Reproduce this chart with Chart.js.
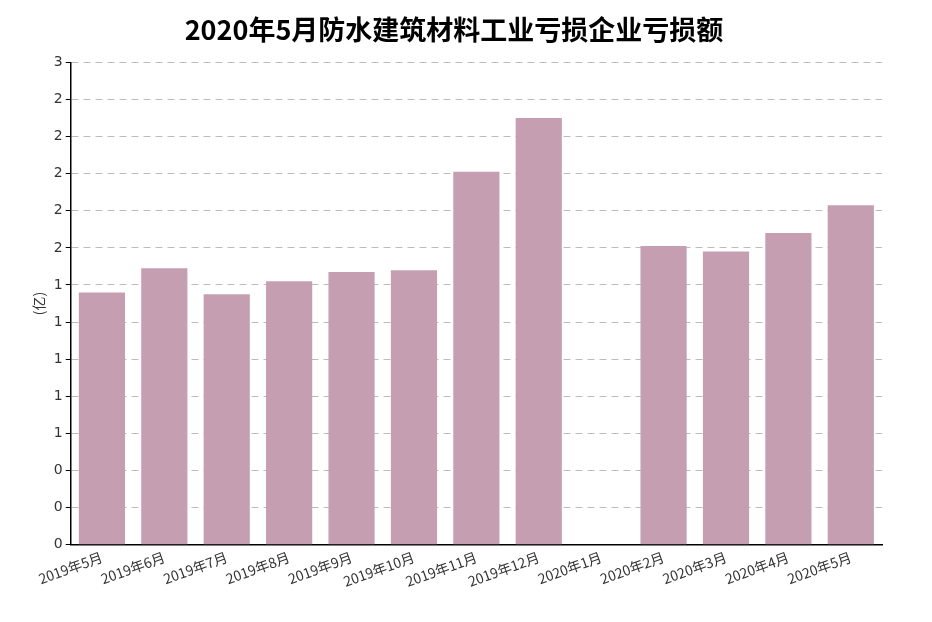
<!DOCTYPE html>
<html>
<head>
<meta charset="utf-8">
<script src="https://cdn.jsdelivr.net/npm/chart.js@4/dist/chart.umd.min.js"></script>
<style>
  html, body { margin: 0; padding: 0; background: #fff; }
  #wrap { width: 932px; height: 622px; position: relative; }
</style>
</head>
<body>
<div id="wrap"><canvas id="lossChart" width="932" height="622"></canvas></div>
<script>
const categories = ["2019年5月", "2019年6月", "2019年7月", "2019年8月", "2019年9月", "2019年10月",
    "2019年11月", "2019年12月", "2020年1月", "2020年2月", "2020年3月", "2020年4月", "2020年5月"];
const lossValues = [1.36, 1.49, 1.35, 1.42, 1.47, 1.48, 2.01, 2.30, null, 1.61, 1.58, 1.68, 1.83];
const yMax = 2.6;
const yStep = 0.2;

const ctx = document.getElementById("lossChart").getContext("2d");
new Chart(ctx, {
    type: "bar",
    data: {
        labels: categories,
        datasets: [{
            label: "亏损额",
            data: lossValues,
            backgroundColor: "#c59fb1",
            categoryPercentage: 1,
            barPercentage: 0.74
        }]
    },
    options: {
        responsive: false,
        animation: false,
        layout: { padding: { left: 26, right: 50, top: 0, bottom: 28 } },
        plugins: {
            legend: { display: false },
            tooltip: { enabled: false },
            title: {
                display: true,
                text: "2020年5月防水建筑材料工业亏损企业亏损额",
                align: "center",
                color: "#000",
                font: { size: 27, family: "Noto Sans CJK SC", weight: "bold" },
                padding: { top: 14, bottom: 16 }
            }
        },
        scales: {
            x: {
                grid: { display: false, drawTicks: false },
                border: { color: "#000", width: 1.5 },
                ticks: {
                    color: "#333",
                    font: { size: 14, family: "Noto Sans CJK SC" },
                    maxRotation: 20, minRotation: 20,
                    autoSkip: false, padding: 4
                }
            },
            y: {
                min: 0, max: yMax,
                title: {
                    display: true, text: "(亿)", color: "#333",
                    font: { size: 14, family: "Noto Sans CJK SC" }
                },
                border: { color: "#000", width: 1.5, dash: [7, 5] },
                grid: {
                    color: "#bdbdbd",
                    tickColor: "#000",
                    tickLength: 5
                },
                ticks: {
                    stepSize: yStep,
                    color: "#333",
                    font: { size: 14, family: "DejaVu Sans" },
                    callback: v => Math.round(v).toString()
                }
            }
        }
    }
});
</script>
</body>
</html>
